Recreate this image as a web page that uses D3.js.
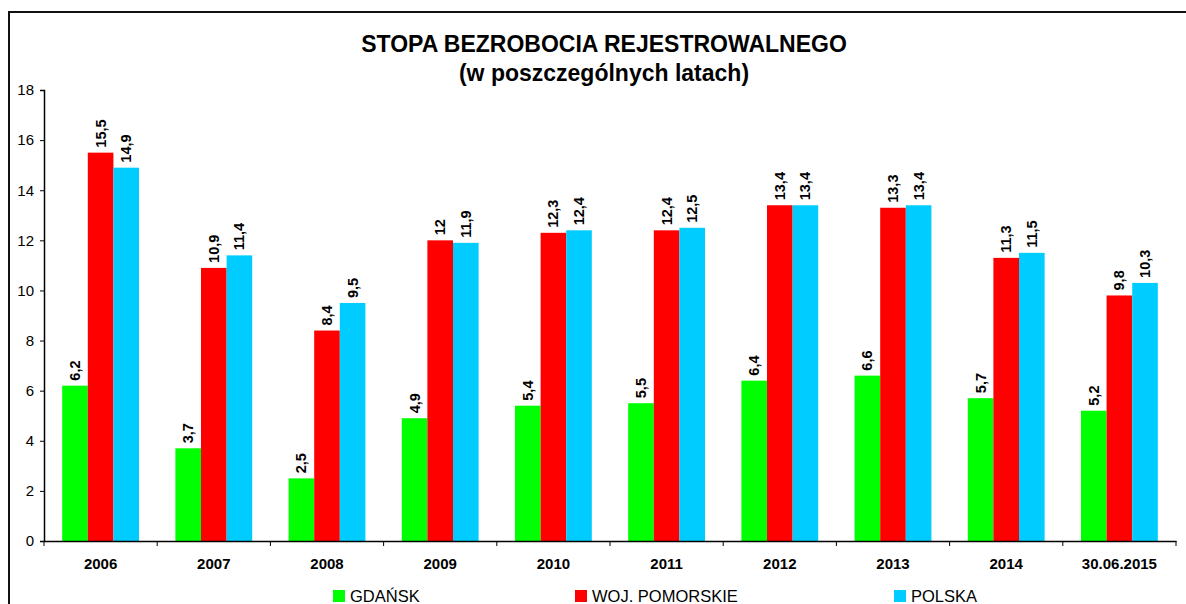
<!DOCTYPE html>
<html>
<head>
<meta charset="UTF-8">
<title>Stopa bezrobocia</title>
<script src="https://cdn.jsdelivr.net/npm/d3@7"></script>
<style>
	body { margin: 0; background: #fff; }
	svg { display: block; font-family: "Liberation Sans", Arial, sans-serif; }
</style>
</head>
<body>
<script>
// data
var categories = ["2006", "2007", "2008", "2009", "2010", "2011", "2012", "2013", "2014", "30.06.2015"];
var seriesNames = ["GDAŃSK", "WOJ. POMORSKIE", "POLSKA"];
var gdansk = [6.2, 3.7, 2.5, 4.9, 5.4, 5.5, 6.4, 6.6, 5.7, 5.2];
var pomorskie = [15.5, 10.9, 8.4, 12, 12.3, 12.4, 13.4, 13.3, 11.3, 9.8];
var polska = [14.9, 11.4, 9.5, 11.9, 12.4, 12.5, 13.4, 13.4, 11.5, 10.3];
var yTicks = [0, 2, 4, 6, 8, 10, 12, 14, 16, 18];
var colors = ["#00ff00", "#ff0000", "#00ccff"];

var width = 1186, height = 604;
var svg = d3.select("body").append("svg").attr("width", width).attr("height", height);

// outer frame (runs off the right and bottom edges)
svg.append("rect")
	.attr("x", 9).attr("y", 12)
	.attr("width", width + 10).attr("height", height + 10)
	.attr("fill", "none").attr("stroke", "#111").attr("stroke-width", 2);

// title
svg.append("text").attr("x", 604).attr("y", 52).attr("text-anchor", "middle")
	.attr("font-size", 23).attr("font-weight", "bold").text("STOPA BEZROBOCIA REJESTROWALNEGO");
svg.append("text").attr("x", 604).attr("y", 81).attr("text-anchor", "middle")
	.attr("font-size", 23).attr("font-weight", "bold").text("(w poszczególnych latach)");

var plotLeft = 44, plotRight = 1176, plotTop = 90, plotBottom = 541;

var x0 = d3.scaleBand().domain(categories).range([plotLeft, plotRight]).paddingInner(0).paddingOuter(0);
var x1 = d3.scaleBand().domain(seriesNames).range([0, x0.bandwidth()]).paddingInner(0).paddingOuter(0.71);
var y = d3.scaleLinear().domain([0, 18]).range([plotBottom, plotTop]);

var series = [gdansk, pomorskie, polska];
var data = [];
categories.forEach(function(c, i) {
	seriesNames.forEach(function(s, j) {
		data.push({ cat: c, name: s, value: series[j][i], color: colors[j] });
	});
});

// bars
svg.selectAll("rect.bar").data(data).enter().append("rect")
	.attr("class", "bar")
	.attr("x", function(d) { return x0(d.cat) + x1(d.name); })
	.attr("y", function(d) { return y(d.value); })
	.attr("width", x1.bandwidth())
	.attr("height", function(d) { return y(0) - y(d.value); })
	.attr("fill", function(d) { return d.color; });

// value labels, rotated
svg.selectAll("text.val").data(data).enter().append("text")
	.attr("class", "val")
	.attr("transform", function(d) {
		var cx = x0(d.cat) + x1(d.name) + x1.bandwidth() / 2 + 5;
		return "translate(" + cx + "," + (y(d.value) - 5) + ") rotate(-90)";
	})
	.attr("font-size", 14.5).attr("font-weight", "bold")
	.text(function(d) { return String(d.value).replace(".", ","); });

// y axis
var yAxis = svg.append("g").attr("transform", "translate(" + plotLeft + ",0)")
	.call(d3.axisLeft(y).tickValues(yTicks).tickSize(4).tickPadding(6));
yAxis.selectAll("text").attr("font-size", 15).attr("font-family", "Liberation Sans, Arial, sans-serif").attr("fill", "#000");
yAxis.selectAll("line").attr("stroke", "#000");
yAxis.select(".domain").attr("stroke", "#000").attr("stroke-width", 1.5);

// x axis
var xAxis = svg.append("g").attr("transform", "translate(0," + plotBottom + ")")
	.call(d3.axisBottom(x0).tickSize(0).tickPadding(17));
xAxis.select(".domain").attr("stroke", "#000").attr("stroke-width", 1.5);
xAxis.selectAll("text").attr("font-size", 15).attr("font-weight", "bold")
	.attr("font-family", "Liberation Sans, Arial, sans-serif").attr("fill", "#000");
var bounds = categories.map(function(c) { return x0(c); }).concat([plotRight]);
svg.selectAll("line.xtick").data(bounds).enter().append("line")
	.attr("x1", function(d) { return d; }).attr("x2", function(d) { return d; })
	.attr("y1", plotBottom).attr("y2", plotBottom + 5)
	.attr("stroke", "#000");

// legend
var legendX = [333, 575, 894];
var legend = svg.selectAll("g.leg").data(seriesNames).enter().append("g")
	.attr("transform", function(d, i) { return "translate(" + legendX[i] + ",590)"; });
legend.append("rect").attr("width", 12).attr("height", 12)
	.attr("fill", function(d, i) { return colors[i]; });
legend.append("text").attr("x", 17).attr("y", 12).attr("font-size", 16.5)
	.text(function(d) { return d; });
</script>
</body>
</html>
